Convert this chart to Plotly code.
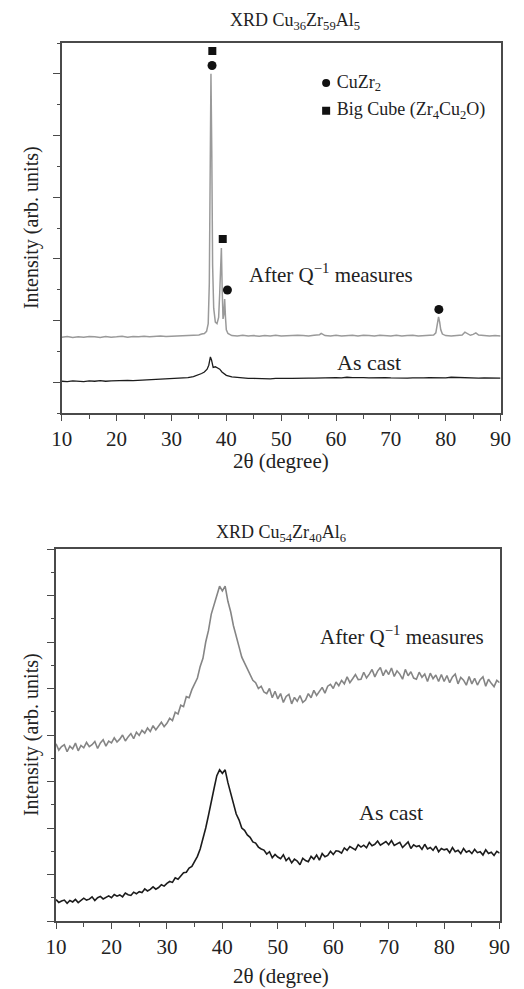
import numpy as np
import plotly.graph_objects as go

# ---------------- top panel: Cu36Zr59Al5 ----------------
top_after_x = (list(range(10, 36)) +
               [35.5, 36, 36.4, 36.7, 36.9, 37.05, 37.2, 37.35, 37.5, 37.7, 38.0, 38.3, 38.6, 38.8,
                38.95, 39.1, 39.25, 39.4, 39.55, 39.7, 39.85, 40.0, 40.3, 40.7] +
               list(range(41, 57)) + [57, 57.3, 57.6] + list(range(58, 78)) +
               [77.8, 78.2, 78.5, 78.7, 78.9, 79.1, 79.4, 79.8, 80, 81, 82, 83, 83.5, 84, 84.5,
                85, 85.5, 86, 87, 88, 89, 90])
top_after_y = ([2.46, 2.48, 2.45, 2.47, 2.46, 2.48, 2.47, 2.45, 2.48, 2.46, 2.47, 2.49, 2.46,
                2.48, 2.47, 2.49, 2.47, 2.48, 2.50, 2.48, 2.49, 2.50, 2.49, 2.51, 2.52, 2.53] +
               [2.56, 2.58, 2.65, 2.9, 4.2, 8.0, 11.0, 8.5, 4.8, 3.4, 2.95, 2.9, 3.1, 3.9,
                5.0, 5.35, 4.0, 3.05, 3.2, 3.7, 3.1, 2.7, 2.58, 2.53] +
               [2.51, 2.50, 2.52, 2.50, 2.51, 2.49, 2.51, 2.50, 2.52, 2.50, 2.51, 2.50, 2.52,
                2.51, 2.50, 2.52] + [2.54, 2.58, 2.54] +
               [2.51, 2.50, 2.52, 2.50, 2.51, 2.52, 2.50, 2.52, 2.51, 2.50, 2.52, 2.51, 2.50,
                2.52, 2.50, 2.51, 2.52, 2.50, 2.51, 2.52] +
               [2.53, 2.6, 2.95, 3.12, 2.95, 2.7, 2.56, 2.52, 2.51, 2.50, 2.51, 2.53, 2.62, 2.56,
                2.52, 2.55, 2.6, 2.53, 2.51, 2.50, 2.51, 2.50])

top_cast_x = (list(range(10, 33)) +
              [33, 34, 35, 35.5, 36, 36.5, 36.8, 37.1, 37.3, 37.6, 38.0, 38.4, 38.8, 39.2, 39.6,
               40, 41, 42, 43] + list(range(44, 91)))
top_cast_y = ([1.03, 1.02, 1.04, 1.03, 1.02, 1.04, 1.03, 1.05, 1.03, 1.04, 1.05, 1.04, 1.06,
               1.05, 1.06, 1.07, 1.06, 1.08, 1.08, 1.09, 1.10, 1.11, 1.13] +
              [1.15, 1.18, 1.24, 1.28, 1.33, 1.42, 1.55, 1.82, 1.72, 1.48, 1.50, 1.46, 1.42, 1.33,
               1.27, 1.22, 1.17, 1.15, 1.13] +
              [1.12, 1.12, 1.11, 1.12, 1.11, 1.12, 1.11, 1.12, 1.12, 1.13,
               1.12, 1.13, 1.13, 1.14, 1.13, 1.14, 1.15, 1.14, 1.16, 1.15,
               1.16, 1.15, 1.14, 1.15, 1.14, 1.15, 1.14, 1.13, 1.14, 1.13,
               1.14, 1.13, 1.14, 1.15, 1.14, 1.15, 1.14, 1.16, 1.15, 1.14,
               1.15, 1.14, 1.13, 1.14, 1.13, 1.14, 1.13])

# phase markers on the peaks
cuzr2_x = [37.4, 40.2, 78.75]
cuzr2_y = [11.27, 3.99, 3.36]
cube_x = [37.45, 39.35]
cube_y = [11.74, 5.64]

# ---------------- bottom panel: Cu54Zr40Al6 ----------------
bot_x = np.arange(10, 90.25, 0.5)
bot_cast_y = [0.92, 0.80, 0.86, 0.90, 0.76, 0.88, 0.82, 0.93, 0.79, 0.89,
              0.98, 0.90, 0.94, 1.04, 0.88, 1.00, 1.06, 0.95, 1.02, 1.08,
              1.00, 1.14, 1.07, 1.12, 1.04, 1.20, 1.13, 1.10, 1.24, 1.17,
              1.26, 1.22, 1.38, 1.29, 1.36, 1.47, 1.37, 1.44, 1.56, 1.50,
              1.62, 1.70, 1.66, 1.86, 1.80, 1.96, 2.08, 2.10, 2.28, 2.35,
              2.56, 2.78, 3.10, 3.50, 4.00, 4.55, 5.20, 5.70, 6.25, 6.50,
              6.35, 6.50, 5.95, 5.50, 5.10, 4.60, 4.35, 4.00, 3.90, 3.70,
              3.60, 3.40, 3.35, 3.18, 3.10, 3.05, 2.88, 2.98, 2.72, 2.86,
              2.75, 2.68, 2.85, 2.60, 2.72, 2.50, 2.66, 2.58, 2.42, 2.70,
              2.60, 2.55, 2.78, 2.66, 2.84, 2.62, 2.90, 2.76, 2.82, 3.00,
              2.86, 3.02, 3.00, 2.92, 3.14, 3.04, 3.20, 3.12, 3.06, 3.28,
              3.18, 3.26, 3.15, 3.38, 3.24, 3.30, 3.44, 3.26, 3.36, 3.42,
              3.28, 3.46, 3.25, 3.32, 3.38, 3.16, 3.30, 3.40, 3.12, 3.28,
              3.20, 3.24, 3.08, 3.30, 3.10, 3.16, 3.04, 3.22, 2.98, 3.12,
              3.06, 3.10, 2.94, 3.16, 2.98, 3.04, 2.90, 3.12, 2.96, 3.02,
              2.90, 3.08, 2.94, 2.98, 2.84, 3.06, 2.90, 2.96, 2.82, 3.00,
              2.92]
bot_after_y = [7.62, 7.35, 7.50, 7.58, 7.28, 7.52, 7.40, 7.65, 7.32, 7.55,
               7.45, 7.68, 7.50, 7.58, 7.72, 7.42, 7.66, 7.80, 7.52, 7.74,
               7.66, 7.88, 7.70, 7.82, 8.00, 7.74, 7.92, 8.06, 7.84, 8.12,
               7.98, 8.20, 8.08, 8.30, 8.15, 8.40, 8.22, 8.38, 8.55, 8.36,
               8.50, 8.72, 8.62, 8.98, 8.90, 9.28, 9.22, 9.65, 9.60, 9.95,
               10.2, 10.45, 10.95, 11.3, 12.0, 12.5, 13.2, 13.6, 14.1, 14.4,
               14.2, 14.4, 13.75, 13.3, 12.7, 12.2, 11.8, 11.35, 11.1, 10.8,
               10.6, 10.35, 10.25, 10.0, 10.1, 9.85, 9.78, 10.0, 9.60, 9.88,
               9.55, 9.78, 9.40, 9.66, 9.75, 9.34, 9.62, 9.45, 9.70, 9.40,
               9.50, 9.78, 9.60, 9.92, 9.70, 9.88, 10.05, 9.80, 10.1, 10.18,
               10.0, 10.28, 10.12, 10.35, 10.2, 10.5, 10.25, 10.42, 10.6, 10.38,
               10.4, 10.7, 10.45, 10.62, 10.82, 10.5, 10.75, 10.9, 10.55, 10.8,
               10.6, 10.88, 10.52, 10.76, 10.62, 10.4, 10.82, 10.55, 10.72, 10.45,
               10.4, 10.7, 10.48, 10.62, 10.3, 10.66, 10.42, 10.58, 10.3, 10.6,
               10.3, 10.56, 10.25, 10.5, 10.62, 10.2, 10.48, 10.36, 10.14, 10.52,
               10.2, 10.44, 10.15, 10.38, 10.5, 10.1, 10.4, 10.22, 10.08, 10.35,
               10.25]

FONT = "Liberation Serif"
GRAY = "#9a9a9a"
BLACK = "#1c1c1c"
AX = "#4a4a4a"
W, H = 524, 989

fig = go.Figure()

# top panel traces
fig.add_trace(go.Scatter(x=top_after_x, y=top_after_y, mode="lines",
                         line=dict(color=GRAY, width=1.5), xaxis="x", yaxis="y"))
fig.add_trace(go.Scatter(x=top_cast_x, y=top_cast_y, mode="lines",
                         line=dict(color=BLACK, width=1.3), xaxis="x", yaxis="y"))
fig.add_trace(go.Scatter(x=cuzr2_x, y=cuzr2_y, mode="markers",
                         marker=dict(symbol="circle", size=9, color="#111"), xaxis="x", yaxis="y"))
fig.add_trace(go.Scatter(x=cube_x, y=cube_y, mode="markers",
                         marker=dict(symbol="square", size=8, color="#111"), xaxis="x", yaxis="y"))
# in-plot key
fig.add_trace(go.Scatter(x=[58.2, 58.2], y=[10.7, 9.8], mode="markers+text",
                         marker=dict(symbol=["circle", "square"], size=8, color="#111"),
                         text=[" CuZr<sub>2</sub>", " Big Cube (Zr<sub>4</sub>Cu<sub>2</sub>O)"],
                         textposition="middle right",
                         textfont=dict(family=FONT, size=18, color="#222"),
                         xaxis="x", yaxis="y"))

# bottom panel traces
fig.add_trace(go.Scatter(x=bot_x, y=bot_after_y, mode="lines",
                         line=dict(color="#858585", width=1.6), xaxis="x3", yaxis="y3"))
fig.add_trace(go.Scatter(x=bot_x, y=bot_cast_y, mode="lines",
                         line=dict(color=BLACK, width=1.6), xaxis="x3", yaxis="y3"))

def xax(domain, anchor):
    return dict(domain=domain, anchor=anchor, range=[10, 90], tickmode="linear", tick0=10, dtick=10,
                ticks="outside", ticklen=6, tickcolor=AX, tickwidth=1.3,
                minor=dict(dtick=5, ticklen=4, tickcolor=AX, ticks="outside"),
                showline=True, linecolor=AX, linewidth=1.5, mirror=True,
                showgrid=False, zeroline=False,
                tickfont=dict(family=FONT, size=21, color="#222"))

def topax(domain, anchor, over):
    return dict(domain=domain, anchor=anchor, overlaying=over, side="top", range=[10, 90],
                tickmode="linear", tick0=10, dtick=10, ticks="inside", ticklen=6,
                tickcolor=AX, tickwidth=1.3,
                minor=dict(dtick=5, ticklen=3, tickcolor=AX, ticks="inside"),
                showticklabels=False, showline=False, showgrid=False, zeroline=False)

def yax(domain, anchor, top, tick0):
    return dict(domain=domain, anchor=anchor, range=[0, top], tickmode="linear", tick0=tick0, dtick=2,
                ticks="outside", ticklen=7, tickcolor=AX, tickwidth=1.3,
                minor=dict(tick0=0, dtick=1, ticklen=3, tickcolor=AX, ticks="outside"),
                showticklabels=False, showline=True, linecolor=AX, linewidth=1.5, mirror=True,
                showgrid=False, zeroline=False)

top_xd = [53 / W, 511 / W]
top_yd = [1 - 413 / H, 1 - 43 / H]
bot_xd = [47 / W, 510 / W]
bot_yd = [1 - 921 / H, 1 - 549 / H]

fig.update_layout(
    width=W, height=H, margin=dict(l=0, r=0, t=0, b=0),
    paper_bgcolor="white", plot_bgcolor="white", showlegend=False,
    font=dict(family=FONT, color="#222"),
    xaxis=xax(top_xd, "y"), yaxis=yax(top_yd, "x", 12, 1),
    xaxis2=topax(top_xd, "y", "x"),
    xaxis3=xax(bot_xd, "y3"), yaxis3=yax(bot_yd, "x3", 16, 0),
    xaxis4=topax(bot_xd, "y3", "x3"),
)

def px(x, y):
    return x / W, 1 - y / H

annots = []
for (tx, ty), txt, size in [
    ((296, 21), "XRD Cu<sub>36</sub>Zr<sub>59</sub>Al<sub>5</sub>", 18),
    ((282, 533), "XRD Cu<sub>54</sub>Zr<sub>40</sub>Al<sub>6</sub>", 18),
    ((282, 461), "2θ (degree)", 21),
    ((282, 976), "2θ (degree)", 21),
]:
    x, y = px(tx, ty)
    annots.append(dict(x=x, y=y, xref="paper", yref="paper", text=txt, showarrow=False,
                       xanchor="center", yanchor="middle", font=dict(family=FONT, size=size)))
for ty in (228, 735):
    x, y = px(21, ty)
    annots.append(dict(x=x, y=y, xref="paper", yref="paper", text="Intensity (arb. units)",
                       showarrow=False, textangle=-90, xanchor="center", yanchor="middle",
                       font=dict(family=FONT, size=20)))
# curve labels
annots += [
    dict(x=59.1, y=4.51, xref="x", yref="y", text="After Q<sup>−1</sup> measures", showarrow=False,
         font=dict(family=FONT, size=21)),
    dict(x=66.1, y=1.65, xref="x", yref="y", text="As cast", showarrow=False,
         font=dict(family=FONT, size=22)),
    dict(x=72.4, y=12.26, xref="x3", yref="y3", text="After Q<sup>−1</sup> measures", showarrow=False,
         font=dict(family=FONT, size=21)),
    dict(x=70.5, y=4.65, xref="x3", yref="y3", text="As cast", showarrow=False,
         font=dict(family=FONT, size=22)),
]
fig.update_layout(annotations=annots)

# drop the default page margin so the figure sits at the top-left corner
fig.write_html("out.html", config={"displayModeBar": False},
               post_script="document.body.style.margin='0';")
